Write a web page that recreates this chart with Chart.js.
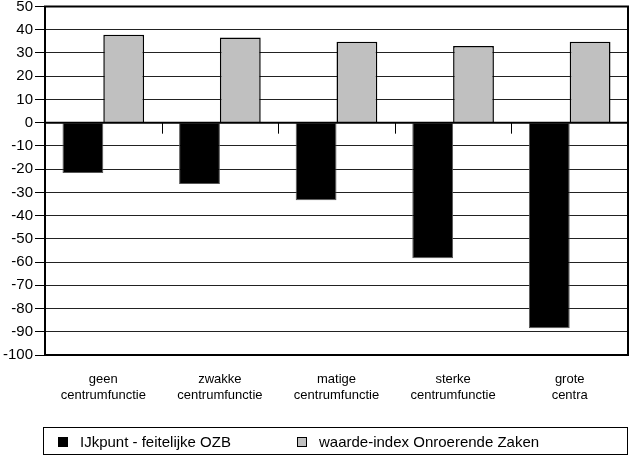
<!DOCTYPE html>
<html>
<head>
<meta charset="utf-8">
<script src="https://cdn.jsdelivr.net/npm/chart.js@4.4.1/dist/chart.umd.min.js"></script>
<style>
  body { margin: 0; background: #fff; }
  #wrap { position: relative; width: 630px; height: 475px; }
  #legenda {
    position: absolute; left: 43px; top: 427px; width: 583px; height: 26px;
    border: 1.5px solid #000; font: 15px "Liberation Sans", Arial, sans-serif; color: #000;
  }
  .item { position: absolute; top: 5px; white-space: nowrap; }
  .vak { display: inline-block; width: 8px; height: 8px; border: 1px solid #000; margin-right: 12px; vertical-align: 0px; }
</style>
</head>
<body>
<div id="wrap">
  <canvas id="grafiek"></canvas>
  <div id="legenda"></div>
</div>
<script>
const categorieen = [
  ["geen", "centrumfunctie"],
  ["zwakke", "centrumfunctie"],
  ["matige", "centrumfunctie"],
  ["sterke", "centrumfunctie"],
  ["grote", "centra"]
];
const ijkpunt = [-21.7, -26.4, -33.4, -58.4, -88.5];
const waardeIndex = [37.8, 36.7, 34.8, 33, 34.8];
const reeksNamen = ["IJkpunt - feitelijke OZB", "waarde-index Onroerende Zaken"];
const kleuren = ["#000000", "#c0c0c0"];

// kader om het plotgebied + streepjes op de nullijn
const kader = {
  id: 'kader',
  afterDatasetsDraw(chart) {
    const {ctx, chartArea: a, scales: {x, y}} = chart;
    ctx.save();
    ctx.strokeStyle = '#000';
    ctx.lineWidth = 1;
    const y0 = y.getPixelForValue(0);
    for (let i = 1; i < categorieen.length; i++) {
      const px = Math.round((x.getPixelForValue(i - 1) + x.getPixelForValue(i)) / 2) + 0.5;
      ctx.beginPath();
      ctx.moveTo(px, y0);
      ctx.lineTo(px, y0 + 11);
      ctx.stroke();
    }
    ctx.lineWidth = 2;
    ctx.beginPath();
    ctx.moveTo(a.left, y0);
    ctx.lineTo(a.right, y0);
    ctx.stroke();
    ctx.strokeRect(a.left, a.top, a.right - a.left, a.bottom - a.top);
    ctx.restore();
  }
};

new Chart(document.getElementById('grafiek'), {
  type: 'bar',
  data: {
    labels: categorieen,
    datasets: [
      { label: reeksNamen[0], data: ijkpunt, backgroundColor: kleuren[0], borderColor: '#555', borderWidth: 1 },
      { label: reeksNamen[1], data: waardeIndex, backgroundColor: kleuren[1], borderColor: '#000', borderWidth: 1.5 }
    ]
  },
  options: {
    responsive: true,
    maintainAspectRatio: false,
    animation: false,
    categoryPercentage: 0.7,
    barPercentage: 1,
    layout: { padding: { top: 5, right: 2, left: 0, bottom: 55 } },
    plugins: { legend: { display: false }, tooltip: { enabled: false } },
    scales: {
      x: {
        grid: { display: false },
        border: { display: false },
        ticks: {
          color: '#000',
          padding: 8,
          maxRotation: 0,
          font: { family: 'Liberation Sans', size: 13, lineHeight: 1.25 }
        },
        afterFit(s) { s.height = 65; }
      },
      y: {
        min: -100,
        max: 50,
        ticks: {
          stepSize: 10,
          color: '#000',
          padding: 2,
          font: { family: 'Liberation Sans', size: 15, lineHeight: 0.6 }
        },
        grid: {
          color: '#222',
          lineWidth: 1,
          tickLength: 10,
          tickColor: '#000'
        },
        border: { display: true, color: '#000', width: 2 },
        afterFit(s) { s.width = 45; }
      }
    }
  },
  plugins: [kader]
});

const legenda = document.getElementById('legenda');
const posities = [14, 253];
reeksNamen.forEach((naam, i) => {
  const el = document.createElement('div');
  el.className = 'item';
  el.style.left = posities[i] + 'px';
  el.innerHTML = `<span class="vak" style="background:${kleuren[i]}"></span>${naam}`;
  legenda.appendChild(el);
});
</script>
</body>
</html>
